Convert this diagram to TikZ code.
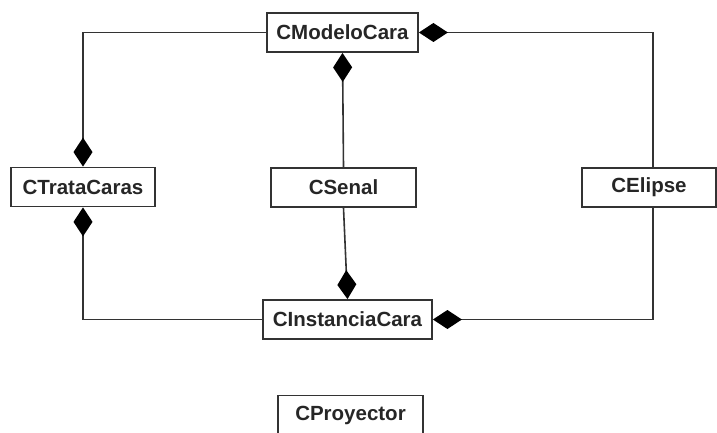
\documentclass[tikz,border=0pt]{standalone}
\usepackage{fontspec}
\setmainfont{Liberation Sans}
\usetikzlibrary{arrows.meta}
\begin{document}
\begin{tikzpicture}[x=1pt,y=-1pt,
  classbox/.style={draw=black!80, line width=1.8pt, fill=white, inner sep=0pt,
    minimum height=39pt, font=\fontsize{20.5}{24}\selectfont\bfseries, text=black!85},
  comp/.style={draw=black!80, line width=1.6pt,
    {Diamond[length=29pt,width=19pt,fill=black,line width=0pt,sep=0pt]}-}]
  \useasboundingbox (0,0) rectangle (717,433);
  \clip (0,0) rectangle (717,433);
  % classes
  \node[classbox, minimum width=151pt] (modelo) at (342.5,32.5) {CModeloCara};
  \node[classbox, minimum width=144pt] (trata) at (83,187) {CTrataCaras};
  \node[classbox, minimum width=145pt] (senal) at (343.5,187.5) {CSenal};
  \node[classbox, minimum width=134pt] (elipse) at (649,187.5) {CElipse};
  \node[classbox, minimum width=169pt] (instancia) at (347.5,319.5) {CInstanciaCara};
  \node[classbox, minimum width=145pt] (proyector) at (350.5,415) {CProyector};
  % compositions
  \draw[comp] (trata.north) |- (modelo.west);
  \draw[comp] (modelo.south) -- (senal.north);
  \draw[comp] (modelo.east) -| ([xshift=4pt]elipse.north);
  \draw[comp] (trata.south) |- (instancia.west);
  \draw[comp] (instancia.north) -- (senal.south);
  \draw[comp] (instancia.east) -| ([xshift=4pt]elipse.south);
\end{tikzpicture}
\end{document}
